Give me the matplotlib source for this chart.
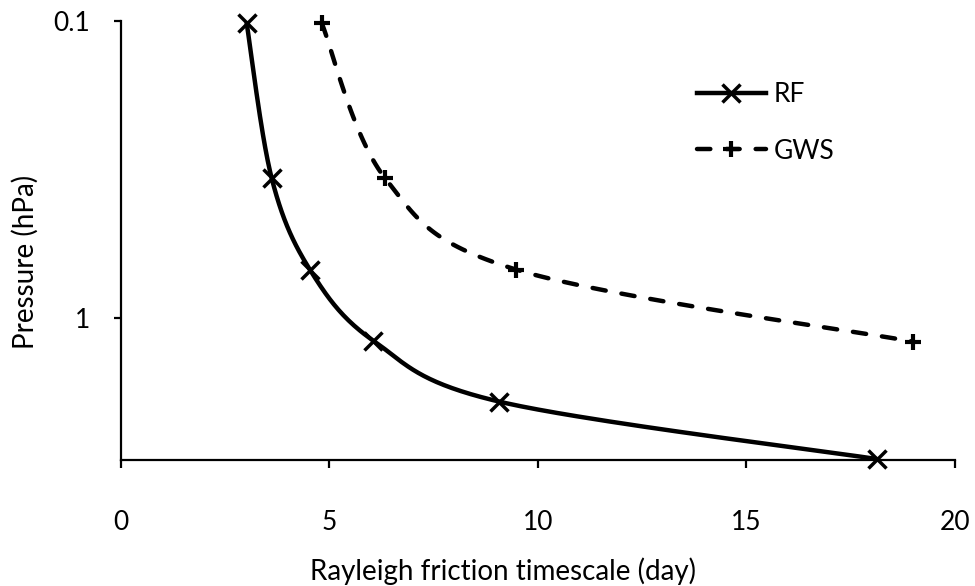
import numpy as np
import matplotlib
matplotlib.use("Agg")
import matplotlib.pyplot as plt
from matplotlib.lines import Line2D

plt.rcParams['font.family'] = ['Lato', 'DejaVu Sans']

# Data
rf_time = [3.02, 3.62, 4.54, 6.06, 9.08, 18.12]
rf_pres = [0.102, 0.3385, 0.688, 1.19, 1.906, 2.97]
gws_time = [4.82, 6.34, 9.48, 19.0]
gws_pres = [0.102, 0.3385, 0.686, 1.198]
x_ticks = [0, 5, 10, 15, 20]
y_ticks = [0.1, 1]
y_tick_labels = ['0.1', '1']

FS_TICK = 19
FS_LAB = 20
FS_LEG = 19

fig = plt.figure(figsize=(9.75, 5.86), dpi=100)
ax = fig.add_axes([120.7/975, 1-460.3/586, (955-120.7)/975, (460.3-20.7)/586])
ax.set_yscale('log')
ax.set_xlim(0, 20)
ax.set_ylim(3, 0.1)


def smooth(xs, ys, n=40):
    """Excel-like smoothed line (Catmull-Rom / Bezier) computed in display space."""
    pts = ax.transData.transform(np.column_stack([xs, ys]))
    P = np.vstack([pts[0], pts, pts[-1]])
    out = []
    for i in range(1, len(P) - 2):
        p0, p1, p2, p3 = P[i-1], P[i], P[i+1], P[i+2]
        c1 = p1 + (p2 - p0) / 6.0
        c2 = p2 - (p3 - p1) / 6.0
        t = np.linspace(0, 1, n)[:, None]
        seg = ((1-t)**3)*p1 + 3*((1-t)**2)*t*c1 + 3*(1-t)*t**2*c2 + t**3*p2
        out.append(seg if i == 1 else seg[1:])
    seg = np.vstack(out)
    data = ax.transData.inverted().transform(seg)
    return data[:, 0], data[:, 1]


LW = 3.2
sx, sy = smooth(rf_time, rf_pres)
ax.plot(sx, sy, color='black', lw=LW, solid_capstyle='round', clip_on=False)
ax.plot(rf_time, rf_pres, ls='none', marker='x', ms=12.5, mew=2.5, color='black',
        clip_on=False)

gx, gy = smooth(gws_time, gws_pres)
ax.plot(gx, gy, color='black', lw=LW, dashes=(3.0, 3.6), dash_capstyle='round',
        clip_on=False)
ax.plot(gws_time, gws_pres, ls='none', marker='+', ms=11.5, mew=3, color='black',
        clip_on=False)

for s in ['top', 'right']:
    ax.spines[s].set_visible(False)
for s in ['left', 'bottom']:
    ax.spines[s].set_linewidth(1.6)

ax.set_xticks(x_ticks)
ax.set_xticklabels([str(v) for v in x_ticks], fontsize=FS_TICK)
ax.set_yticks(y_ticks)
ax.set_yticklabels(y_tick_labels, fontsize=FS_TICK)
ax.yaxis.set_minor_locator(matplotlib.ticker.NullLocator())
ax.tick_params(axis='x', direction='out', length=6, width=1.6, pad=30)
ax.tick_params(axis='y', direction='out', length=5, width=1.6, pad=17)

ax.set_xlabel('Rayleigh friction timescale (day)', fontsize=FS_LAB)
ax.xaxis.set_label_coords((503-120.7)/834.3, (460.3-557)/439.6)
ax.set_ylabel('Pressure (hPa)', fontsize=FS_LAB)
ax.yaxis.set_label_coords((39-120.7)/834.3, (460.3-262)/439.6)

handles = [
    Line2D([], [], color='black', lw=LW, marker='x', ms=12.5, mew=2.5),
    Line2D([], [], color='black', lw=LW, dashes=(3.0, 3.6), dash_capstyle='round',
           marker='+', ms=11.5, mew=3),
]
fig.legend(handles, ['RF', 'GWS'], loc='upper left',
           bbox_to_anchor=(697/975, 1-82/586), frameon=False, fontsize=FS_LEG,
           handlelength=2.6, handletextpad=0.3, labelspacing=1.2,
           borderpad=0, borderaxespad=0)

fig.savefig('out.png', dpi=100)
